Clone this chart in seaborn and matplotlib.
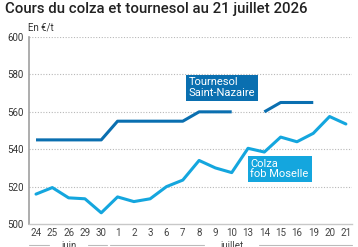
import numpy as np
import pandas as pd
import matplotlib
matplotlib.use("Agg")
import matplotlib.pyplot as plt
import seaborn as sns

days = ["24", "25", "26", "29", "30", "1", "2", "3", "6", "7",
        "8", "9", "10", "13", "14", "15", "16", "19", "20", "21"]
tournesol = [545, 545, 545, 545, 545, 555, 555, 555, 555, 555,
             560, 560, 560, np.nan, 560, 565, 565, 565, np.nan, np.nan]
colza = [516, 519.5, 514, 513.5, 506, 514.5, 512, 513.5, 520, 523.5,
         534, 530, 527.5, 540.5, 538.5, 546.5, 544, 548.5, 557.5, 553.5]
months = ["juin", "juillet"]
month_spans = [(0, 4), (5, 19)]
yticks = [500, 520, 540, 560, 580, 600]

c_tour = "#0a6fb0"
c_colza = "#14a6de"

sns.set_theme(style="white")
plt.rcParams["font.family"] = ["Roboto", "DejaVu Sans"]

fig = plt.figure(figsize=(3.58, 2.47), dpi=100)
ax = fig.add_axes([0.081, 0.093, 0.902, 0.757])

x = np.arange(len(days))
seg = np.cumsum(np.isnan(np.array(tournesol, dtype=float)))
df_t = pd.DataFrame({"x": x, "y": tournesol, "seg": seg}).dropna()
df_c = pd.DataFrame({"x": x, "y": colza})

sns.lineplot(data=df_t, x="x", y="y", units="seg", estimator=None,
             color=c_tour, lw=2.2, ax=ax, solid_capstyle="butt")
sns.lineplot(data=df_c, x="x", y="y", color=c_colza, lw=2.2, ax=ax)

ax.set_xlim(-0.43, 19.37)
ax.set_ylim(500, 600)
ax.set_yticks(yticks)
ax.set_yticklabels([str(v) for v in yticks], fontsize=7, color="#333333")
ax.set_xticks(x)
ax.set_xticklabels(days, fontsize=7, color="#444444")
ax.tick_params(axis="both", length=0, pad=3)
ax.tick_params(axis="y", pad=4)
ax.set_xlabel("")
ax.set_ylabel("")
for v in yticks[1:]:
    ax.axhline(v, color="#b8b8b8", lw=0.8, ls=(0, (1, 1.5)), zorder=0)
for s in ["top", "right"]:
    ax.spines[s].set_visible(False)
ax.spines["left"].set_color("#a0a0a0")
ax.spines["bottom"].set_color("#c8c8c8")
ax.spines["left"].set_linewidth(1.2)
ax.spines["bottom"].set_linewidth(1.0)

# month labels
trans = ax.get_xaxis_transform()
for name, (a, b) in zip(months, month_spans):
    c = (a + b) / 2
    ax.text(c, -0.12, name, transform=trans, ha="center", va="center",
            fontsize=7, color="#444444", clip_on=False)
    w = 0.55 + 0.16 * len(name)
    ax.plot([a - 0.45, c - w], [-0.11, -0.11], transform=trans, color="#bbbbbb",
            lw=0.8, clip_on=False)
    ax.plot([c + w, b + 0.37], [-0.11, -0.11], transform=trans, color="#bbbbbb",
            lw=0.8, clip_on=False)

# series labels
ax.text(9.35, 573, "Tournesol\nSaint-Nazaire", fontsize=8, color="white",
        ha="left", va="center", linespacing=1.05,
        bbox=dict(boxstyle="square,pad=0.25", fc=c_tour, ec="none"))
ax.text(13.15, 529.5, "Colza\nfob Moselle", fontsize=8, color="white",
        ha="left", va="center", linespacing=1.05,
        bbox=dict(boxstyle="square,pad=0.25", fc=c_colza, ec="none"))

fig.text(0.014, 0.962, "Cours du colza et tournesol au 21 juillet 2026",
         fontsize=10.8, fontweight="medium", color="#222222", ha="left", va="center")
fig.text(0.078, 0.887, "En €/t", fontsize=7, color="#333333", ha="left", va="center")

fig.savefig("out.png", dpi=100)
